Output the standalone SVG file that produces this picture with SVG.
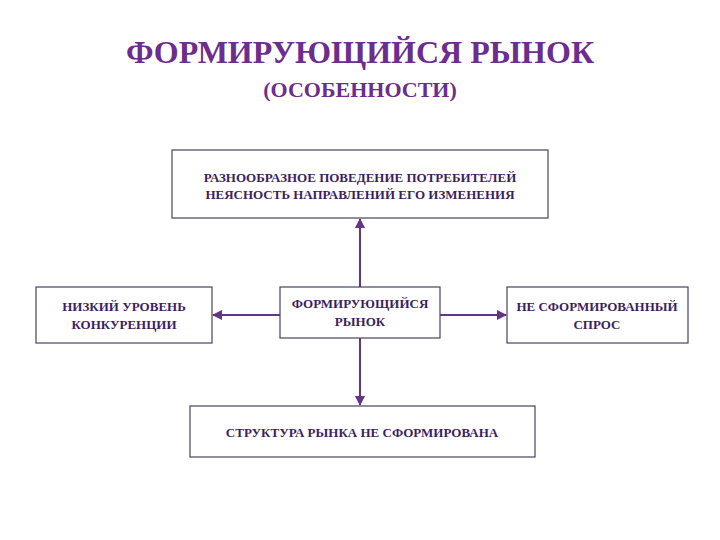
<svg xmlns="http://www.w3.org/2000/svg" width="720" height="540" viewBox="0 0 720 540">
<defs>
<marker id="ah" viewBox="0 0 10 10" refX="9" refY="5" markerWidth="5" markerHeight="5" orient="auto" markerUnits="strokeWidth">
<path d="M0,0 L10,5 L0,10 z" fill="#633583"/>
</marker>
</defs>
<rect width="720" height="540" fill="#fff"/>
<text x="360" y="63" font-size="32" font-family="Liberation Serif" font-weight="bold" fill="#6b2d8e" text-anchor="middle">ФОРМИРУЮЩИЙСЯ РЫНОК</text>
<text x="360" y="97" font-size="22" font-family="Liberation Serif" font-weight="bold" fill="#6b2d8e" text-anchor="middle">(ОСОБЕННОСТИ)</text>
<g id="connectors" stroke="#633583" stroke-width="2" fill="none" marker-end="url(#ah)">
<line x1="360" y1="287" x2="360" y2="219"/>
<line x1="360" y1="338" x2="360" y2="405"/>
<line x1="280" y1="315" x2="213" y2="315"/>
<line x1="440" y1="315" x2="506" y2="315"/>
</g>
<g id="top">
<rect x="172" y="150" width="376" height="68" fill="#fff" stroke="#4a4160" stroke-width="1.2"/>
<text x="360" y="182" font-size="13" font-family="Liberation Serif" font-weight="bold" fill="#3d1f60" text-anchor="middle">РАЗНООБРАЗНОЕ ПОВЕДЕНИЕ ПОТРЕБИТЕЛЕЙ</text>
<text x="360" y="199" font-size="13" font-family="Liberation Serif" font-weight="bold" fill="#3d1f60" text-anchor="middle">НЕЯСНОСТЬ НАПРАВЛЕНИЙ ЕГО ИЗМЕНЕНИЯ</text>
</g>
<g id="left">
<rect x="36" y="287" width="176" height="56" fill="#fff" stroke="#4a4160" stroke-width="1.2"/>
<text x="124" y="311" font-size="13" font-family="Liberation Serif" font-weight="bold" fill="#3d1f60" text-anchor="middle">НИЗКИЙ УРОВЕНЬ</text>
<text x="124" y="329" font-size="13" font-family="Liberation Serif" font-weight="bold" fill="#3d1f60" text-anchor="middle">КОНКУРЕНЦИИ</text>
</g>
<g id="center">
<rect x="280" y="287" width="160" height="51" fill="#fff" stroke="#4a4160" stroke-width="1.2"/>
<text x="360" y="308" font-size="13" font-family="Liberation Serif" font-weight="bold" fill="#3d1f60" text-anchor="middle">ФОРМИРУЮЩИЙСЯ</text>
<text x="360" y="326" font-size="13" font-family="Liberation Serif" font-weight="bold" fill="#3d1f60" text-anchor="middle">РЫНОК</text>
</g>
<g id="right">
<rect x="507" y="287" width="181" height="56" fill="#fff" stroke="#4a4160" stroke-width="1.2"/>
<text x="597" y="311" font-size="13" font-family="Liberation Serif" font-weight="bold" fill="#3d1f60" text-anchor="middle">НЕ СФОРМИРОВАННЫЙ</text>
<text x="597" y="329" font-size="13" font-family="Liberation Serif" font-weight="bold" fill="#3d1f60" text-anchor="middle">СПРОС</text>
</g>
<g id="bottom">
<rect x="190" y="406" width="345" height="51" fill="#fff" stroke="#4a4160" stroke-width="1.2"/>
<text x="362" y="437" font-size="13" font-family="Liberation Serif" font-weight="bold" fill="#3d1f60" text-anchor="middle">СТРУКТУРА РЫНКА НЕ СФОРМИРОВАНА</text>
</g>
</svg>
